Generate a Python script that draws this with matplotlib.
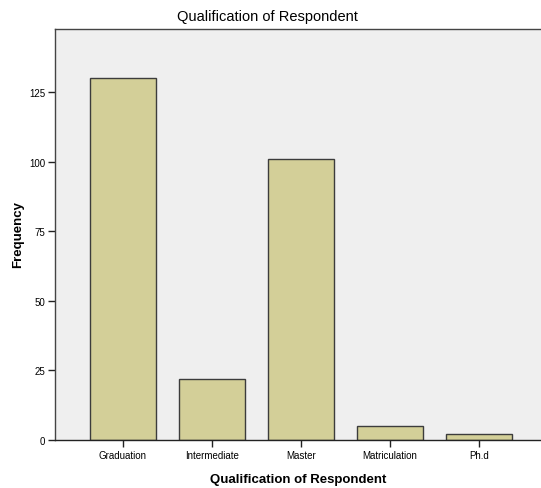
import matplotlib
matplotlib.use("Agg")
import matplotlib.pyplot as plt

categories = ["Graduation", "Intermediate", "Master", "Matriculation", "Ph.d"]
frequency = [130, 22, 101, 5, 2]
yticks = [0, 25, 50, 75, 100, 125]

plt.rcParams["font.family"] = ["Liberation Sans", "DejaVu Sans"]

fig = plt.figure(figsize=(5.41, 4.89), dpi=100)
fig.patch.set_facecolor("white")
ax = fig.add_axes([55 / 541, 48 / 489, 486 / 541, 411 / 489])
ax.set_facecolor("#EFEFEF")

x = list(range(len(categories)))
ax.bar(x, frequency, width=0.74, color="#D3CF98", edgecolor="#3C3C3C", linewidth=1.0, zorder=2)

ax.set_xlim(-0.76, 4.70)
ax.set_ylim(0, 147.6)
ax.set_xticks(x)
ax.set_xticklabels(categories, fontsize=7)
ax.set_yticks(yticks)
ax.set_yticklabels([str(v) for v in yticks], fontsize=7)
ax.tick_params(axis="both", direction="out", length=5, width=1, color="#222222", pad=2)

for side in ("left", "top", "bottom"):
    ax.spines[side].set_color("#444444")
    ax.spines[side].set_linewidth(1.0)
ax.spines["right"].set_visible(False)
ax.spines["bottom"].set_color("#222222")

fig.text(298 / 541, 1 - 480 / 489, "Qualification of Respondent", ha="center", va="center",
         fontsize=9.5, fontweight="bold")
fig.text(18 / 541, 1 - 235 / 489, "Frequency", ha="center", va="center", rotation=90,
         fontsize=9.5, fontweight="bold")
fig.text(0.495, 1 - 17 / 489, "Qualification of Respondent", ha="center", va="center", fontsize=10.5)

fig.savefig("out.png", dpi=100)
